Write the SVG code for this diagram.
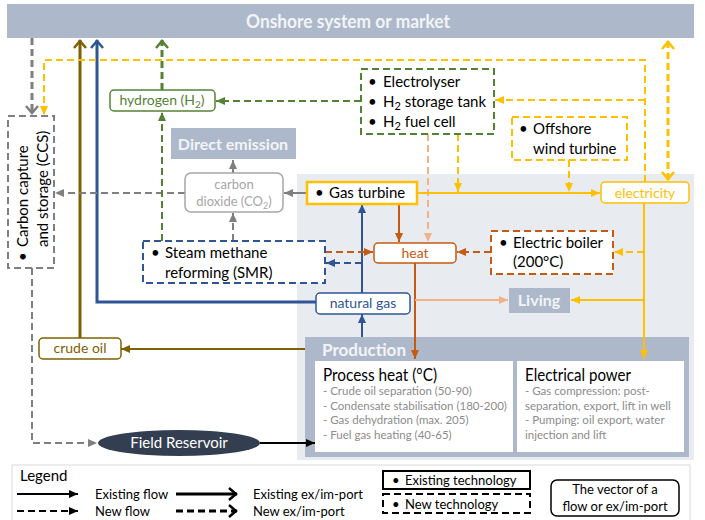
<svg xmlns="http://www.w3.org/2000/svg" width="705" height="520" viewBox="0 0 705 520">
<style>
text{font-family:Lato,"Liberation Sans",sans-serif}
.bn{font-weight:bold;fill:#f2f4f7}
.nt{font-size:15px;fill:#000}
.vec{font-size:14px}
.sm{font-size:11.5px;fill:#8c8c8c}
.lg{font-size:13px;fill:#000}
.f{fill:none;stroke-width:2}
.x{fill:none;stroke-width:3}
.d{stroke-dasharray:7 4}
.yl{stroke:#ffc000}.or{stroke:#c55a11}.lo{stroke:#f4b183}.gr{stroke:#548235}.bl{stroke:#2f5597}.br{stroke:#7f6000}.gy{stroke:#7f7f7f}.bk{stroke:#000}
</style>
<defs>
<marker id="aK" markerUnits="userSpaceOnUse" markerWidth="9" markerHeight="8" refX="9" refY="4" orient="auto"><path d="M0,0L9,4L0,8z" fill="#000"/></marker>
<marker id="aG" markerUnits="userSpaceOnUse" markerWidth="9" markerHeight="8" refX="9" refY="4" orient="auto"><path d="M0,0L9,4L0,8z" fill="#7f7f7f"/></marker>
<marker id="aN" markerUnits="userSpaceOnUse" markerWidth="9" markerHeight="8" refX="9" refY="4" orient="auto"><path d="M0,0L9,4L0,8z" fill="#548235"/></marker>
<marker id="aB" markerUnits="userSpaceOnUse" markerWidth="9" markerHeight="8" refX="9" refY="4" orient="auto"><path d="M0,0L9,4L0,8z" fill="#2f5597"/></marker>
<marker id="aR" markerUnits="userSpaceOnUse" markerWidth="9" markerHeight="8" refX="9" refY="4" orient="auto"><path d="M0,0L9,4L0,8z" fill="#7f6000"/></marker>
<marker id="aO" markerUnits="userSpaceOnUse" markerWidth="9" markerHeight="8" refX="9" refY="4" orient="auto"><path d="M0,0L9,4L0,8z" fill="#c55a11"/></marker>
<marker id="aL" markerUnits="userSpaceOnUse" markerWidth="9" markerHeight="8" refX="9" refY="4" orient="auto"><path d="M0,0L9,4L0,8z" fill="#f4b183"/></marker>
<marker id="aY" markerUnits="userSpaceOnUse" markerWidth="9" markerHeight="8" refX="9" refY="4" orient="auto"><path d="M0,0L9,4L0,8z" fill="#ffc000"/></marker>
<marker id="cK" markerUnits="userSpaceOnUse" viewBox="-2 -8 12 16" markerWidth="12" markerHeight="16" refX="8" refY="0" orient="auto"><path d="M0,-6L7,0L0,6" fill="none" stroke="#000" stroke-width="2.5"/></marker>
<marker id="cG" markerUnits="userSpaceOnUse" viewBox="-2 -8 12 16" markerWidth="12" markerHeight="16" refX="8" refY="0" orient="auto"><path d="M0,-6L7,0L0,6" fill="none" stroke="#7f7f7f" stroke-width="2.5"/></marker>
<marker id="cN" markerUnits="userSpaceOnUse" viewBox="-2 -8 12 16" markerWidth="12" markerHeight="16" refX="8" refY="0" orient="auto"><path d="M0,-6L7,0L0,6" fill="none" stroke="#548235" stroke-width="2.5"/></marker>
<marker id="cB" markerUnits="userSpaceOnUse" viewBox="-2 -8 12 16" markerWidth="12" markerHeight="16" refX="8" refY="0" orient="auto"><path d="M0,-6L7,0L0,6" fill="none" stroke="#2f5597" stroke-width="2.5"/></marker>
<marker id="cR" markerUnits="userSpaceOnUse" viewBox="-2 -8 12 16" markerWidth="12" markerHeight="16" refX="8" refY="0" orient="auto"><path d="M0,-6L7,0L0,6" fill="none" stroke="#7f6000" stroke-width="2.5"/></marker>
<marker id="cY" markerUnits="userSpaceOnUse" viewBox="-2 -8 12 16" markerWidth="12" markerHeight="16" refX="8" refY="0" orient="auto-start-reverse"><path d="M0,-6L7,0L0,6" fill="none" stroke="#ffc000" stroke-width="2.5"/></marker>
</defs>
<rect width="705" height="520" fill="#fff"/>

<g id="offshore-area"><rect x="297" y="174" width="397" height="286" fill="#e8ebf0"/></g>

<g id="banner">
<rect x="7" y="4" width="687" height="34" fill="#adb9ca"/>
<text x="246" y="28" class="bn" font-size="19" textLength="204" lengthAdjust="spacingAndGlyphs">Onshore system or market</text>
</g>

<g id="production">
<rect x="305" y="337" width="384" height="120" fill="#adb9ca"/>
<text x="322" y="356" class="bn" font-size="17">Production</text>
<rect x="315" y="361" width="198" height="91" fill="#fff"/>
<rect x="517" y="361" width="167" height="91" fill="#fff"/>
<text x="323" y="381" font-size="17.5" textLength="114" lengthAdjust="spacingAndGlyphs">Process heat (°C)</text>
<text x="323" y="395" class="sm">- Crude oil separation (50-90)</text>
<text x="323" y="410" class="sm">- Condensate stabilisation (180-200)</text>
<text x="323" y="424" class="sm">- Gas dehydration (max. 205)</text>
<text x="323" y="439" class="sm">- Fuel gas heating (40-65)</text>
<text x="525" y="381" font-size="17.5" textLength="106" lengthAdjust="spacingAndGlyphs">Electrical power</text>
<text x="525" y="395" class="sm">- Gas compression: post-</text>
<text x="525" y="410" class="sm">separation, export, lift in well</text>
<text x="525" y="424" class="sm">- Pumping: oil export, water</text>
<text x="525" y="439" class="sm">injection and lift</text>
</g>

<g id="connectors">
<path class="f bk" d="M260,443H315" marker-end="url(#aK)"/>
<path class="f br" d="M305,349H121" marker-end="url(#aR)"/>
<path class="x br" d="M80,338V40" marker-end="url(#cR)"/>
<path class="x bl" d="M316,302H97V40" marker-end="url(#cB)"/>
<path class="f bl" d="M362,337V314" marker-end="url(#aB)"/>
<path class="f bl" d="M362,293V204" marker-end="url(#aB)"/>
<path class="f bl d" d="M362,263H326" marker-end="url(#aB)"/>
<path class="f gy" d="M307,193H284" marker-end="url(#aG)"/>
<path class="f gy" d="M233,173V160" marker-end="url(#aG)"/>
<path class="f gy d" d="M233,241V213" marker-end="url(#aG)"/>
<path class="f gy d" d="M185,193H55" marker-end="url(#aG)"/>
<path class="x gy d" d="M32,38V114" marker-end="url(#cG)"/>
<path class="f gy d" d="M32,268V443H97" marker-end="url(#aG)"/>
<path class="f gr d" d="M162,241V112" marker-end="url(#aN)"/>
<path class="x gr d" d="M162,90V40" marker-end="url(#cN)"/>
<path class="f gr d" d="M361,101H216" marker-end="url(#aN)"/>
<path class="f or" d="M399,204V242" marker-end="url(#aO)"/>
<path class="f lo d" d="M428,134V242" marker-end="url(#aL)"/>
<path class="f or d" d="M325,252H373" marker-end="url(#aO)"/>
<path class="f or d" d="M491,252H457" marker-end="url(#aO)"/>
<path class="f or" d="M415,263V359" marker-end="url(#aO)"/>
<path class="f lo" d="M415,300H508" marker-end="url(#aL)"/>
<path class="f yl" d="M417,193H600" marker-end="url(#aY)"/>
<path class="f yl d" d="M458,134V192" marker-end="url(#aY)"/>
<path class="f yl d" d="M569,160V192" marker-end="url(#aY)"/>
<path class="x yl d" d="M668,41V180" marker-start="url(#cY)" marker-end="url(#cY)"/>
<path class="f yl d" d="M645,182V60H44V115" marker-end="url(#aY)"/>
<path class="f yl d" d="M645,100H495" marker-end="url(#aY)"/>
<path class="f yl" d="M644,203V359" marker-end="url(#aY)"/>
<path class="f yl d" d="M644,252H614" marker-end="url(#aY)"/>
<path class="f yl" d="M644,300H571" marker-end="url(#aY)"/>
</g>

<g id="ccs">
<rect x="8" y="116" width="46" height="152" fill="#fff" stroke="#7f7f7f" stroke-width="2" stroke-dasharray="7 4"/>
<text transform="rotate(-90)" class="nt"><tspan x="-261" y="28">•</tspan><tspan x="-247" y="28">Carbon capture</tspan><tspan x="-247" y="48">and storage (CCS)</tspan></text>
</g>

<g id="hydrogen">
<rect x="110" y="90" width="105" height="21" rx="4" fill="#fff" stroke="#548235" stroke-width="1.5"/>
<text x="162" y="105" text-anchor="middle" class="vec" fill="#548235">hydrogen (H<tspan font-size="10" dy="3">2</tspan><tspan dy="-3">)</tspan></text>
</g>

<g id="h2-tech">
<rect x="361" y="69" width="133" height="65" fill="#fff" stroke="#548235" stroke-width="2" stroke-dasharray="7 4"/>
<text class="nt"><tspan x="368" y="87">•</tspan><tspan x="383" y="87">Electrolyser</tspan><tspan x="368" y="107">•</tspan><tspan x="383" y="107">H<tspan font-size="11" dy="3">2</tspan><tspan dy="-3"> storage tank</tspan></tspan><tspan x="368" y="127">•</tspan><tspan x="383" y="127">H<tspan font-size="11" dy="3">2</tspan><tspan dy="-3"> fuel cell</tspan></tspan></text>
</g>

<g id="offshore-wind">
<rect x="512" y="117" width="115" height="43" fill="#fff" stroke="#ffc000" stroke-width="2" stroke-dasharray="7 4"/>
<text class="nt"><tspan x="519" y="134">•</tspan><tspan x="533" y="134">Offshore</tspan><tspan x="533" y="154">wind turbine</tspan></text>
</g>

<g id="direct-emission">
<rect x="171" y="128" width="125" height="31" fill="#adb9ca"/>
<text x="233" y="150" text-anchor="middle" class="bn" font-size="16">Direct emission</text>
</g>

<g id="co2">
<rect x="185" y="173" width="98" height="39" rx="6" fill="#fff" stroke="#a6a6a6" stroke-width="1.5"/>
<text x="234" y="189" text-anchor="middle" font-size="13" fill="#a6a6a6">carbon</text>
<text x="234" y="206" text-anchor="middle" font-size="13" fill="#a6a6a6">dioxide (CO<tspan font-size="9" dy="3">2</tspan><tspan dy="-3">)</tspan></text>
</g>

<g id="gas-turbine">
<rect x="307" y="182" width="110" height="22" fill="#fff" stroke="#ffc000" stroke-width="2.5"/>
<text class="nt"><tspan x="315" y="198">•</tspan><tspan x="329" y="198">Gas turbine</tspan></text>
</g>

<g id="electricity">
<rect x="601" y="182" width="88" height="21" rx="4" fill="#fff" stroke="#ffc000" stroke-width="1.5"/>
<text x="645" y="198" text-anchor="middle" class="vec" fill="#ffc000">electricity</text>
</g>

<g id="smr">
<rect x="143" y="241" width="182" height="42" fill="#fff" stroke="#2f5597" stroke-width="2" stroke-dasharray="7 4"/>
<text class="nt"><tspan x="151" y="258">•</tspan><tspan x="165" y="258">Steam methane</tspan><tspan x="165" y="278">reforming (SMR)</tspan></text>
</g>

<g id="heat">
<rect x="374" y="243" width="82" height="20" rx="4" fill="#fff" stroke="#c55a11" stroke-width="1.5"/>
<text x="415" y="258" text-anchor="middle" class="vec" fill="#c55a11">heat</text>
</g>

<g id="electric-boiler">
<rect x="491" y="231" width="122" height="43" fill="#fff" stroke="#c55a11" stroke-width="2" stroke-dasharray="7 4"/>
<text class="nt"><tspan x="499" y="248">•</tspan><tspan x="513" y="248">Electric boiler</tspan><tspan x="513" y="267">(200°C)</tspan></text>
</g>

<g id="natural-gas">
<rect x="316" y="293" width="94" height="21" rx="4" fill="#fff" stroke="#2f5597" stroke-width="1.5"/>
<text x="363" y="308" text-anchor="middle" class="vec" fill="#2f5597">natural gas</text>
</g>

<g id="living">
<rect x="509" y="288" width="61" height="25" fill="#adb9ca"/>
<text x="539" y="306" text-anchor="middle" class="bn" font-size="16">Living</text>
</g>

<g id="crude-oil">
<rect x="39" y="338" width="82" height="21" rx="4" fill="#fff" stroke="#7f6000" stroke-width="1.5"/>
<text x="80" y="353" text-anchor="middle" class="vec" fill="#7f6000">crude oil</text>
</g>

<g id="field-reservoir">
<ellipse cx="179" cy="443" rx="81" ry="13" fill="#333f50"/>
<text x="179" y="448" text-anchor="middle" font-size="15" fill="#fff">Field Reservoir</text>
</g>

<g id="legend">
<rect x="12" y="465" width="678" height="60" fill="#fff" stroke="#d9d9d9"/>
<text x="20" y="481" font-size="15">Legend</text>
<path class="f bk" d="M17,494H78" marker-end="url(#aK)"/>
<path class="f bk d" d="M17,511H78" marker-end="url(#aK)"/>
<path class="x bk" d="M176,494H237" marker-end="url(#cK)"/>
<path class="x bk d" d="M176,511H237" marker-end="url(#cK)"/>
<text x="95" y="499" class="lg">Existing flow</text>
<text x="95" y="516" class="lg">New flow</text>
<text x="253" y="499" class="lg">Existing ex/im-port</text>
<text x="253" y="516" class="lg">New ex/im-port</text>
<rect x="383" y="471" width="147" height="18" fill="#fff" stroke="#000" stroke-width="2"/>
<text class="lg"><tspan x="392" y="485">•</tspan><tspan x="405" y="485">Existing technology</tspan></text>
<rect x="383" y="494" width="147" height="19" fill="#fff" stroke="#000" stroke-width="2" stroke-dasharray="7 4"/>
<text class="lg"><tspan x="392" y="509">•</tspan><tspan x="405" y="509">New technology</tspan></text>
<rect x="551" y="480" width="128" height="36" rx="6" fill="#fff" stroke="#000" stroke-width="1.5"/>
<text x="615" y="494" text-anchor="middle" class="lg">The vector of a</text>
<text x="615" y="511" text-anchor="middle" class="lg">flow or ex/im-port</text>
</g>
</svg>
